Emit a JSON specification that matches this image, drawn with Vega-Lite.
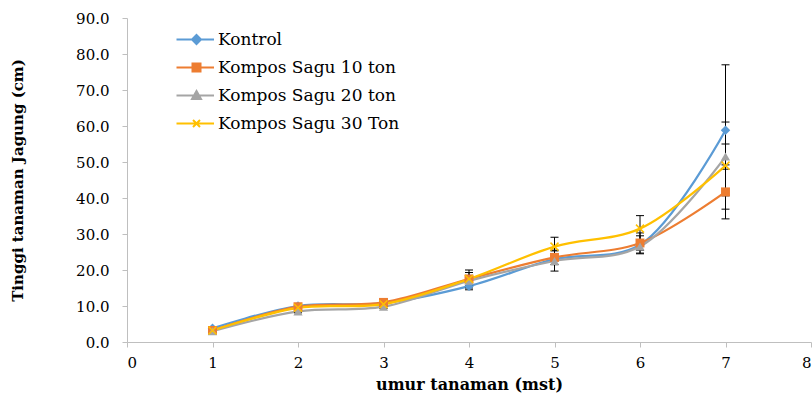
{
  "$schema": "https://vega.github.io/schema/vega-lite/v6.json",
  "autosize": "none",
  "width": 684,
  "height": 324,
  "padding": {"left": 127, "top": 18, "right": 1, "bottom": 54},
  "background": "white",
  "config": {
    "font": "DejaVu Serif",
    "view": {"stroke": null},
    "axis": {"grid": false, "domainColor": "#BFBFBF", "tickColor": "#BFBFBF", "labelColor": "#000", "titleColor": "#000", "labelFont": "DejaVu Serif", "titleFont": "DejaVu Serif", "labelFontSize": 15, "titleFontSize": 15, "titleFontWeight": "bold", "labelOverlap": false}
  },
  "data": {"values": [
    {"x": 1, "series": "Kontrol", "y": 3.8, "err": 0.4},
    {"x": 2, "series": "Kontrol", "y": 10.0, "err": 0.4},
    {"x": 3, "series": "Kontrol", "y": 10.8, "err": 0.8},
    {"x": 4, "series": "Kontrol", "y": 15.5, "err": 1.0},
    {"x": 5, "series": "Kontrol", "y": 23.0, "err": 1.5},
    {"x": 6, "series": "Kontrol", "y": 27.0, "err": 2.5},
    {"x": 7, "series": "Kontrol", "y": 58.8, "err": 18.2},
    {"x": 1, "series": "Kompos Sagu 10 ton", "y": 3.2, "err": 0.4},
    {"x": 2, "series": "Kompos Sagu 10 ton", "y": 9.8, "err": 0.4},
    {"x": 3, "series": "Kompos Sagu 10 ton", "y": 11.0, "err": 0.6},
    {"x": 4, "series": "Kompos Sagu 10 ton", "y": 17.5, "err": 2.5},
    {"x": 5, "series": "Kompos Sagu 10 ton", "y": 23.5, "err": 2.0},
    {"x": 6, "series": "Kompos Sagu 10 ton", "y": 27.5, "err": 2.8},
    {"x": 7, "series": "Kompos Sagu 10 ton", "y": 41.7, "err": 7.5},
    {"x": 1, "series": "Kompos Sagu 20 ton", "y": 3.0, "err": 0.4},
    {"x": 2, "series": "Kompos Sagu 20 ton", "y": 8.5, "err": 0.4},
    {"x": 3, "series": "Kompos Sagu 20 ton", "y": 9.8, "err": 0.5},
    {"x": 4, "series": "Kompos Sagu 20 ton", "y": 17.0, "err": 1.5},
    {"x": 5, "series": "Kompos Sagu 20 ton", "y": 22.5, "err": 2.8},
    {"x": 6, "series": "Kompos Sagu 20 ton", "y": 26.5, "err": 1.0},
    {"x": 7, "series": "Kompos Sagu 20 ton", "y": 51.5, "err": 3.5},
    {"x": 1, "series": "Kompos Sagu 30 Ton", "y": 3.2, "err": 0.4},
    {"x": 2, "series": "Kompos Sagu 30 Ton", "y": 9.5, "err": 0.4},
    {"x": 3, "series": "Kompos Sagu 30 Ton", "y": 10.5, "err": 0.5},
    {"x": 4, "series": "Kompos Sagu 30 Ton", "y": 17.5, "err": 1.8},
    {"x": 5, "series": "Kompos Sagu 30 Ton", "y": 26.5, "err": 2.6},
    {"x": 6, "series": "Kompos Sagu 30 Ton", "y": 31.5, "err": 3.6},
    {"x": 7, "series": "Kompos Sagu 30 Ton", "y": 49.0, "err": 12.1}
  ]},
  "transform": [
    {"calculate": "datum.y - datum.err", "as": "lo"},
    {"calculate": "datum.y + datum.err", "as": "hi"}
  ],
  "encoding": {
    "x": {"field": "x", "type": "quantitative", "scale": {"domain": [0, 8], "nice": false, "zero": false},
      "axis": {"values": [0,1,2,3,4,5,6,7,8], "format": "d", "title": "umur tanaman (mst)", "titleFontSize": 16, "tickSize": 5, "labelPadding": 8, "titlePadding": 6}}
  },
  "layer": [
    {
      "mark": {"type": "line", "interpolate": "catmull-rom", "strokeWidth": 2.25},
      "encoding": {
        "y": {"field": "y", "type": "quantitative",
          "scale": {"domain": [0, 90], "nice": false},
          "axis": {"values": [0,10,20,30,40,50,60,70,80,90], "tickCount": 10, "format": ".1f", "title": "Tinggi tanaman Jagung (cm)", "tickSize": 5, "labelPadding": 13, "titlePadding": 50, "labelOverlap": false}},
        "color": {"field": "series", "type": "nominal",
          "scale": {"domain": ["Kontrol", "Kompos Sagu 10 ton", "Kompos Sagu 20 ton", "Kompos Sagu 30 Ton"], "range": ["#5B9BD5", "#ED7D31", "#A5A5A5", "#FFC000"]},
          "legend": {"title": null, "orient": "none", "legendX": 76, "legendY": 13, "labelFont": "DejaVu Serif", "labelFontSize": 17, "labelColor": "#000", "labelLimit": 0, "symbolSize": 100, "symbolStrokeWidth": 2, "rowPadding": 10, "labelOffset": -2,
            "encode": {"symbols": {"update": {
              "shape": {"signal": "datum.value === 'Kontrol' ? 'M-7,0L0.5,0M-3,-0.9L-2.1,0L-3,0.9L-3.9,0Z' : datum.value === 'Kompos Sagu 10 ton' ? 'M-7,0L0.5,0M-3.8,-0.8L-2.2,-0.8L-2.2,0.8L-3.8,0.8Z' : datum.value === 'Kompos Sagu 20 ton' ? 'M-7,0L0.5,0M-3,-0.9L-2.1,0.7L-3.9,0.7Z' : 'M-7,0L0.5,0M-3.7,-0.7L-2.3,0.7M-3.7,0.7L-2.3,-0.7'"},
              "stroke": {"scale": "color", "field": "value"},
              "fill": {"scale": "color", "field": "value"},
              "strokeWidth": {"value": 2},
              "size": {"value": 100},
              "opacity": {"value": 1}
            }}}}
        }
      }
    },
    {
      "mark": {"type": "rule", "color": "#000", "strokeWidth": 1},
      "encoding": {
        "y": {"field": "lo", "type": "quantitative", "axis": {"values": [0,10,20,30,40,50,60,70,80,90], "tickCount": 10, "format": ".1f", "title": "Tinggi tanaman Jagung (cm)", "tickSize": 5, "labelPadding": 13, "titlePadding": 50, "labelOverlap": false}},
        "y2": {"field": "hi"}
      }
    },
    {
      "mark": {"type": "point", "shape": "stroke", "size": 64, "color": "#000", "strokeWidth": 1, "opacity": 1},
      "encoding": {"y": {"field": "lo", "type": "quantitative", "axis": {"values": [0,10,20,30,40,50,60,70,80,90], "tickCount": 10, "format": ".1f", "title": "Tinggi tanaman Jagung (cm)", "tickSize": 5, "labelPadding": 13, "titlePadding": 50, "labelOverlap": false}}}
    },
    {
      "mark": {"type": "point", "shape": "stroke", "size": 64, "color": "#000", "strokeWidth": 1, "opacity": 1},
      "encoding": {"y": {"field": "hi", "type": "quantitative", "axis": {"values": [0,10,20,30,40,50,60,70,80,90], "tickCount": 10, "format": ".1f", "title": "Tinggi tanaman Jagung (cm)", "tickSize": 5, "labelPadding": 13, "titlePadding": 50, "labelOverlap": false}}}
    },
    {
      "transform": [{"filter": "datum.series === 'Kontrol'"}],
      "mark": {"type": "point", "shape": "diamond", "filled": true, "size": 90, "opacity": 1, "color": "#5B9BD5"},
      "encoding": {"y": {"field": "y", "type": "quantitative"}}
    },
    {
      "transform": [{"filter": "datum.series === 'Kompos Sagu 10 ton'"}],
      "mark": {"type": "point", "shape": "square", "filled": true, "size": 80, "opacity": 1, "color": "#ED7D31"},
      "encoding": {"y": {"field": "y", "type": "quantitative"}}
    },
    {
      "transform": [{"filter": "datum.series === 'Kompos Sagu 20 ton'"}],
      "mark": {"type": "point", "shape": "triangle-up", "filled": true, "size": 85, "opacity": 1, "color": "#A5A5A5"},
      "encoding": {"y": {"field": "y", "type": "quantitative"}}
    },
    {
      "transform": [{"filter": "datum.series === 'Kompos Sagu 30 Ton'"}],
      "mark": {"type": "point", "shape": "M-1,-1L1,1M-1,1L1,-1", "filled": false, "size": 64, "opacity": 1, "strokeWidth": 1.5, "color": "#FFC000"},
      "encoding": {"y": {"field": "y", "type": "quantitative"}}
    }
  ]
}
